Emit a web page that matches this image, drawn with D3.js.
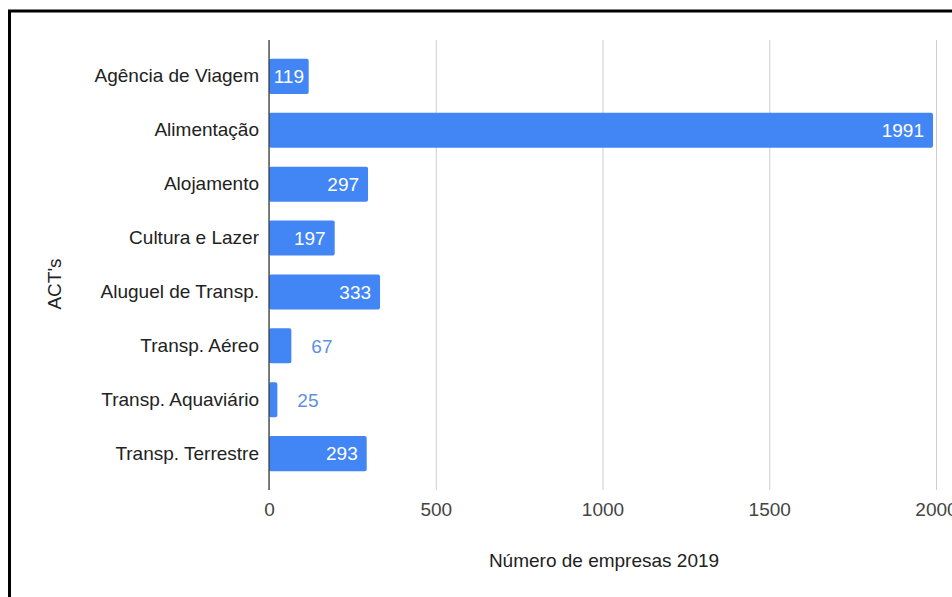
<!DOCTYPE html>
<html>
<head>
<meta charset="utf-8">
<script src="https://cdn.jsdelivr.net/npm/d3@7"></script>
<style>
  html, body { margin: 0; padding: 0; background: #fff; }
  svg { display: block; }
  text { font-family: Arial, "Liberation Sans", sans-serif; }
</style>
</head>
<body>
<svg id="chart" width="952" height="597"></svg>
<script>
// Number of companies per tourism activity (ACT), 2019
const categories = [
  "Agência de Viagem",
  "Alimentação",
  "Alojamento",
  "Cultura e Lazer",
  "Aluguel de Transp.",
  "Transp. Aéreo",
  "Transp. Aquaviário",
  "Transp. Terrestre"
];
const values = [119, 1991, 297, 197, 333, 67, 25, 293];
const xTicks = [0, 500, 1000, 1500, 2000];
const xTitle = "Número de empresas 2019";
const yTitle = "ACT's";

const svg = d3.select("#chart");
const plot = { left: 269, right: 936, top: 40, bottom: 490 };
const barColor = "#4285f4";
const FONT = "Arial, 'Liberation Sans', sans-serif";
const FS = 19;

// outer frame (open to the right and bottom)
svg.append("rect")
  .attr("x", 9.5).attr("y", 11)
  .attr("width", 1200).attr("height", 1200)
  .attr("fill", "none").attr("stroke", "#000").attr("stroke-width", 3);

// chart heading, mostly above the visible area
svg.append("text")
  .attr("x", 400).attr("y", -4)
  .attr("text-anchor", "middle")
  .attr("font-size", 20).attr("font-weight", "bold")
  .attr("fill", "#000")
  .text("g");

const x = d3.scaleLinear().domain([0, 2000]).range([plot.left, plot.right]);
const y = d3.scaleBand().domain(categories).range([plot.top, plot.bottom])
  .paddingInner(0.35).paddingOuter(0.35);

// vertical gridlines + tick labels
const xAxis = d3.axisBottom(x).tickValues(xTicks).tickFormat(d3.format("d"))
  .tickSize(-(plot.bottom - plot.top)).tickPadding(13);
const gx = svg.append("g").attr("transform", `translate(0,${plot.bottom})`).call(xAxis);
gx.select(".domain").remove();
gx.selectAll(".tick line").attr("stroke", "#cccccc").attr("stroke-width", 1);
gx.selectAll(".tick text").attr("font-size", FS).attr("fill", "#444").attr("dy", "0.71em")
  .attr("font-family", FONT);

// bars
const data = categories.map((c, i) => ({ c, v: values[i] }));
svg.append("g").selectAll("rect").data(data).join("rect")
  .attr("x", x(0))
  .attr("y", d => y(d.c))
  .attr("width", d => x(d.v) - x(0))
  .attr("height", y.bandwidth())
  .attr("rx", 2)
  .attr("fill", barColor);

// zero baseline
svg.append("line")
  .attr("x1", x(0)).attr("x2", x(0))
  .attr("y1", plot.top).attr("y2", plot.bottom)
  .attr("stroke", "#333").attr("stroke-width", 1.2);

// category labels
const gy = svg.append("g").attr("transform", `translate(${x(0)},0)`)
  .call(d3.axisLeft(y).tickSize(0).tickPadding(10));
gy.select(".domain").remove();
gy.selectAll(".tick text").attr("font-size", FS).attr("fill", "#222")
  .attr("font-family", FONT);

// value labels: inside the bar when it fits, otherwise just after it
const labels = svg.append("g").selectAll("text").data(data).join("text")
  .attr("font-size", FS)
  .attr("y", d => y(d.c) + y.bandwidth() / 2)
  .attr("dy", "0.36em")
  .text(d => d.v);

labels.each(function(d) {
  const t = d3.select(this);
  const tw = this.getComputedTextLength();
  const bw = x(d.v) - x(0);
  if (tw + 18 <= bw) {
    t.attr("x", x(d.v) - 9).attr("text-anchor", "end").attr("fill", "#fff");
  } else if (tw + 4 <= bw) {
    t.attr("x", x(0) + bw / 2).attr("text-anchor", "middle").attr("fill", "#fff");
  } else {
    t.attr("x", x(d.v) + 20).attr("text-anchor", "start").attr("fill", "#5f8fdf");
  }
});

// axis titles
svg.append("text")
  .attr("x", 604).attr("y", 567)
  .attr("text-anchor", "middle")
  .attr("font-size", FS).attr("fill", "#222")
  .text(xTitle);

svg.append("text")
  .attr("transform", "translate(61,284) rotate(-90)")
  .attr("text-anchor", "middle")
  .attr("font-size", FS).attr("fill", "#222")
  .text(yTitle);
</script>
</body>
</html>
